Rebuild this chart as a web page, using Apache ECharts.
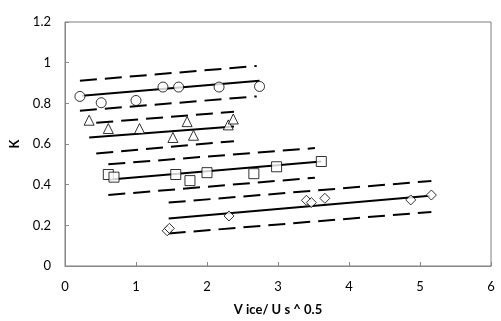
<!DOCTYPE html>
<html>
<head>
<meta charset="utf-8">
<script src="https://cdn.jsdelivr.net/npm/echarts@6/dist/echarts.min.js"></script>
<style>
  html, body { margin: 0; padding: 0; background: #fff; }
  #chart { width: 501px; height: 321px; }
</style>
</head>
<body>
<div id="chart"></div>
<script>
// measured points
const circleX = [0.21, 0.51, 1.0, 1.38, 1.60, 2.17, 2.74];
const circleY = [0.834, 0.803, 0.814, 0.88, 0.88, 0.88, 0.883];
const triangleX = [0.34, 0.61, 1.05, 1.52, 1.72, 1.81, 2.30, 2.37];
const triangleY = [0.717, 0.676, 0.676, 0.632, 0.71, 0.643, 0.694, 0.723];
const squareX = [0.61, 0.69, 1.56, 1.76, 2.0, 2.66, 2.98, 3.61];
const squareY = [0.45, 0.437, 0.45, 0.42, 0.459, 0.454, 0.488, 0.514];
const diamondX = [1.44, 1.47, 2.31, 3.40, 3.47, 3.66, 4.87, 5.16];
const diamondY = [0.173, 0.185, 0.246, 0.323, 0.312, 0.333, 0.325, 0.349];

// fit lines and bands (start/end)
const circleFitX = [0.24, 2.74], circleFitY = [0.837, 0.911];
const circleUpY = [0.911, 0.984], circleLowY = [0.764, 0.834], circleBandX = [0.21, 2.70];
const triFitX = [0.34, 2.38], triFitY = [0.632, 0.686];
const triBandX = [0.44, 2.38], triUpY = [0.704, 0.759], triLowY = [0.553, 0.614];
const sqFitX = [0.64, 3.61], sqFitY = [0.426, 0.514];
const sqBandX = [0.61, 3.52], sqUpY = [0.50, 0.58], sqLowY = [0.349, 0.434];
const diaFitX = [1.46, 5.14], diaFitY = [0.234, 0.345];
const diaBandX = [1.46, 5.16], diaUpY = [0.312, 0.418], diaLowY = [0.16, 0.266];

const yTicks = ['0', '0.2', '0.4', '0.6', '0.8', '1', '1.2'];

const pair = (xs, ys) => xs.map((x, i) => [x, ys[i]]);

const pointStyle = { color: '#fff', borderColor: '#000', borderWidth: 1 };
const scatter = (xs, ys, symbol, size) => ({
    type: 'scatter',
    data: pair(xs, ys),
    symbol: symbol,
    symbolSize: size,
    itemStyle: pointStyle,
    z: 5
});
const line = (xs, ys, dashed) => ({
    type: 'line',
    data: pair(xs, ys),
    symbol: 'none',
    lineStyle: { color: '#000', width: 2, type: dashed ? [17, 8] : 'solid' },
    z: 3
});

const font = 'Lato';
const chart = echarts.init(document.getElementById('chart'));
chart.setOption({
    animation: false,
    grid: { left: 53, right: 10, top: 22, bottom: 54, show: true, borderColor: '#7f7f7f', borderWidth: 1 },
    xAxis: {
        type: 'value', min: 0, max: 6, interval: 1,
        name: 'V ice/ U s ^ 0.5', nameLocation: 'middle', nameGap: 37,
        nameTextStyle: { fontFamily: font, fontWeight: 'bold', fontSize: 13, color: '#000' },
        axisLine: { lineStyle: { color: '#888' } },
        axisTick: { inside: true, length: 4, lineStyle: { color: '#888' } },
        axisLabel: { fontFamily: font, fontSize: 13, color: '#000', margin: 14 },
        splitLine: { show: false }
    },
    yAxis: {
        type: 'value', min: 0, max: 1.2, interval: 0.2,
        name: 'K', nameLocation: 'middle', nameGap: 44,
        nameTextStyle: { fontFamily: font, fontWeight: 'bold', fontSize: 13, color: '#000' },
        axisLine: { show: true, lineStyle: { color: '#888' } },
        axisTick: { show: true, inside: true, length: 4, lineStyle: { color: '#888' } },
        axisLabel: {
            fontFamily: font, fontSize: 13, color: '#000', margin: 14,
            formatter: (v) => yTicks[Math.round(v / 0.2)]
        },
        splitLine: { show: false }
    },
    series: [
        line(circleFitX, circleFitY, false),
        line(circleBandX, circleUpY, true),
        line(circleBandX, circleLowY, true),
        line(triFitX, triFitY, false),
        line(triBandX, triUpY, true),
        line(triBandX, triLowY, true),
        line(sqFitX, sqFitY, false),
        line(sqBandX, sqUpY, true),
        line(sqBandX, sqLowY, true),
        line(diaFitX, diaFitY, false),
        line(diaBandX, diaUpY, true),
        line(diaBandX, diaLowY, true),
        scatter(circleX, circleY, 'circle', 10),
        scatter(triangleX, triangleY, 'triangle', 10),
        scatter(squareX, squareY, 'rect', 10),
        scatter(diamondX, diamondY, 'diamond', 10)
    ]
});
</script>
</body>
</html>
